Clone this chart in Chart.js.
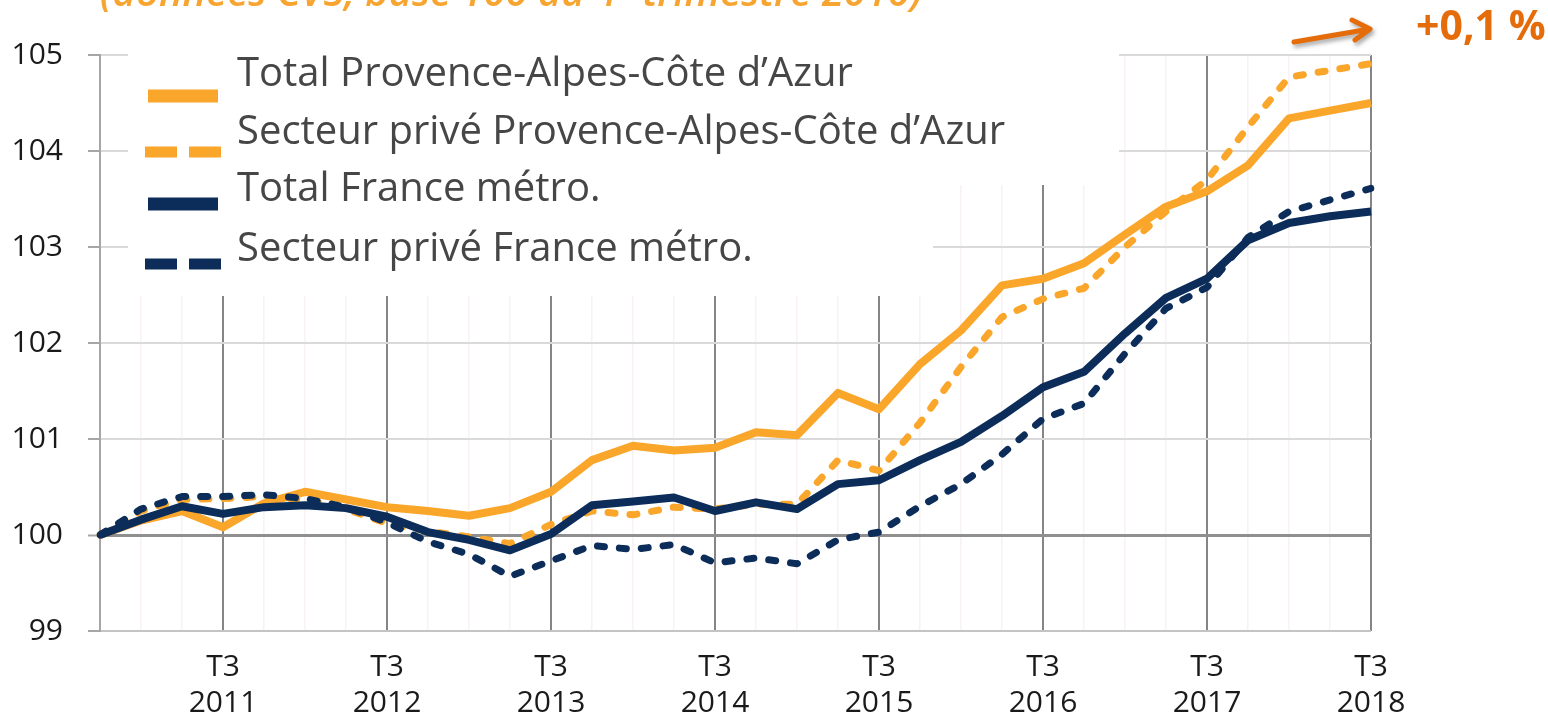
<!DOCTYPE html>
<html>
<head>
<meta charset="utf-8">
<script src="https://cdn.jsdelivr.net/npm/chart.js@4.4.1/dist/chart.umd.min.js"></script>
<style>
html,body{margin:0;padding:0;background:#fff;}
</style>
</head>
<body>
<canvas id="emploiChart" width="1548" height="718"></canvas>
<script>

// trimestres, de T4 2010 (base 100) a T3 2018
const quarters = [
"T4 2010",
"T1 2011","T2 2011","T3 2011","T4 2011",
"T1 2012","T2 2012","T3 2012","T4 2012",
"T1 2013","T2 2013","T3 2013","T4 2013",
"T1 2014","T2 2014","T3 2014","T4 2014",
"T1 2015","T2 2015","T3 2015","T4 2015",
"T1 2016","T2 2016","T3 2016","T4 2016",
"T1 2017","T2 2017","T3 2017","T4 2017",
"T1 2018","T2 2018","T3 2018"
];

const totalPaca = [
100,
100.15,100.25,100.08,100.33,
100.45,100.37,100.29,100.25,
100.20,100.28,100.45,100.78,
100.93,100.88,100.91,101.07,
101.04,101.48,101.31,101.78,
102.13,102.60,102.67,102.83,
103.13,103.42,103.58,103.85,
104.34,104.42,104.50
];

const priveePaca = [
100,
100.25,100.37,100.38,100.40,
100.37,100.27,100.12,100.04,
99.98,99.91,100.11,100.25,
100.21,100.29,100.27,100.32,
100.32,100.78,100.67,101.17,
101.75,102.27,102.46,102.57,
103.00,103.37,103.70,104.25,
104.77,104.84,104.91
];

const totalFrance = [
100,
100.16,100.30,100.22,100.29,
100.31,100.28,100.19,100.03,
99.95,99.84,100.01,100.31,
100.35,100.39,100.25,100.34,
100.27,100.53,100.57,100.78,
100.97,101.24,101.54,101.70,
102.10,102.47,102.67,103.07,
103.25,103.32,103.37
];

const priveeFrance = [
100,
100.27,100.40,100.40,100.42,
100.38,100.29,100.13,99.93,
99.80,99.57,99.73,99.89,
99.85,99.90,99.71,99.76,
99.70,99.95,100.03,100.30,
100.53,100.84,101.21,101.37,
101.89,102.36,102.58,103.10,
103.37,103.49,103.61
];

const ORANGE = "#FAA62A";
const NAVY = "#0C2D5A";

const titleText = "(données CVS, base 100 au 4";
const titleText2 = " trimestre 2010)";
const evolText = "+0,1 %";


// legende, fond blanc et titre dessines a la main
const decorPlugin = {

id:"decor",

beforeDatasetsDraw(chart){

const ctx = chart.ctx;

ctx.save();

// le cadre de legende cache la grille
ctx.fillStyle = "#fff";
ctx.fillRect(128,40,991,145);
ctx.fillRect(128,40,805,256);

const textY = [75,133,190,250];
const markY = [96,152,204,264];

ctx.font = "40px 'Open Sans'";
ctx.textBaseline = "middle";
ctx.textAlign = "left";

chart.data.datasets.forEach((ds,i)=>{

ctx.strokeStyle = ds.borderColor;

if(ds.borderDash && ds.borderDash.length){
ctx.lineWidth = 11;
ctx.setLineDash([32,12]);
ctx.beginPath();
ctx.moveTo(145,markY[i]);
ctx.lineTo(223,markY[i]);
ctx.stroke();
}
else{
ctx.lineWidth = 13;
ctx.setLineDash([]);
ctx.beginPath();
ctx.moveTo(148,markY[i]);
ctx.lineTo(218,markY[i]);
ctx.stroke();
}

ctx.fillStyle = "#464646";
ctx.fillText(ds.label,237,textY[i]);

});

ctx.restore();

},

afterDraw(chart){

const ctx = chart.ctx;

ctx.save();

// titre coupe en haut
ctx.fillStyle = "#F7A530";
ctx.font = "italic 600 40px 'Open Sans'";
ctx.textBaseline = "alphabetic";
ctx.fillText(titleText,100,6);
let w = ctx.measureText(titleText).width;
ctx.font = "italic 600 24px 'Open Sans'";
ctx.fillText("e",100+w+1,-10);
let w2 = ctx.measureText("e").width;
ctx.font = "italic 600 40px 'Open Sans'";
ctx.fillText(titleText2,100+w+w2+2,6);

// fleche
ctx.shadowColor = "rgba(0,0,0,0.35)";
ctx.shadowBlur = 4;
ctx.shadowOffsetX = 2;
ctx.shadowOffsetY = 3;
ctx.strokeStyle = "#E46C0A";
ctx.lineWidth = 5;
ctx.lineCap = "round";
ctx.lineJoin = "round";
ctx.beginPath();
ctx.moveTo(1294,42);
ctx.lineTo(1370,29);
ctx.moveTo(1352,20);
ctx.lineTo(1370,29);
ctx.lineTo(1355,40);
ctx.stroke();

ctx.shadowColor = "transparent";
ctx.fillStyle = "#E46C0A";
ctx.font = "bold 41px 'Open Sans'";
ctx.textBaseline = "middle";
ctx.fillText(evolText,1416,28);

ctx.restore();

}

};


const emploiChart =
new Chart(
document.getElementById("emploiChart"),
{

type:"line",

data:{

labels:quarters,

datasets:[
{
label:"Total Provence-Alpes-Côte d’Azur",
data:totalPaca,
borderColor:ORANGE,
borderWidth:8,
order:4
},
{
label:"Secteur privé Provence-Alpes-Côte d’Azur",
data:priveePaca,
borderColor:ORANGE,
borderWidth:7,
borderDash:[7,15],
borderCapStyle:"round",
order:3
},
{
label:"Total France métro.",
data:totalFrance,
borderColor:NAVY,
borderWidth:8,
order:2
},
{
label:"Secteur privé France métro.",
data:priveeFrance,
borderColor:NAVY,
borderWidth:7,
borderDash:[7,15],
borderCapStyle:"round",
order:1
}
]

},

options:{

responsive:false,
animation:false,

layout:{
padding:{top:55,right:177,left:0,bottom:0}
},

elements:{
point:{radius:0},
line:{tension:0,borderJoinStyle:"round"}
},

plugins:{
legend:{display:false},
tooltip:{enabled:false}
},

scales:{

x:{
grid:{
drawTicks:false,
color:(c)=> quarters[c.index] && quarters[c.index].startsWith("T3") ? "#858585" : "#f9f2f4",
lineWidth:(c)=> quarters[c.index] && quarters[c.index].startsWith("T3") ? 2 : 1.5
},
border:{display:false},
ticks:{
autoSkip:false,
maxRotation:0,
padding:18,
color:"#1a1a1a",
font:{family:"'Open Sans'",size:30,lineHeight:1.2},
callback:function(v,i){
const q = quarters[i];
return q.startsWith("T3") ? q.split(" ") : "";
}
},
afterFit:(s)=>{ s.height = 87; }
},

y:{
min:99,
max:105,
ticks:{
stepSize:1,
padding:25,
color:"#1a1a1a",
font:{family:"'Open Sans'",size:30}
},
grid:{
tickLength:12,
tickColor:"#a6a6a6",
tickWidth:2,
color:(c)=> c.tick.value===100 ? "#8f8f8f" : (c.tick.value===99 ? "#c4c4c4" : "#d9d9d9"),
lineWidth:(c)=> c.tick.value===100 ? 3 : 2
},
border:{color:"#a6a6a6",width:2},
afterFit:(s)=>{ s.width = 100; }
}

}

},

plugins:[decorPlugin]

});

</script>
</body>
</html>
